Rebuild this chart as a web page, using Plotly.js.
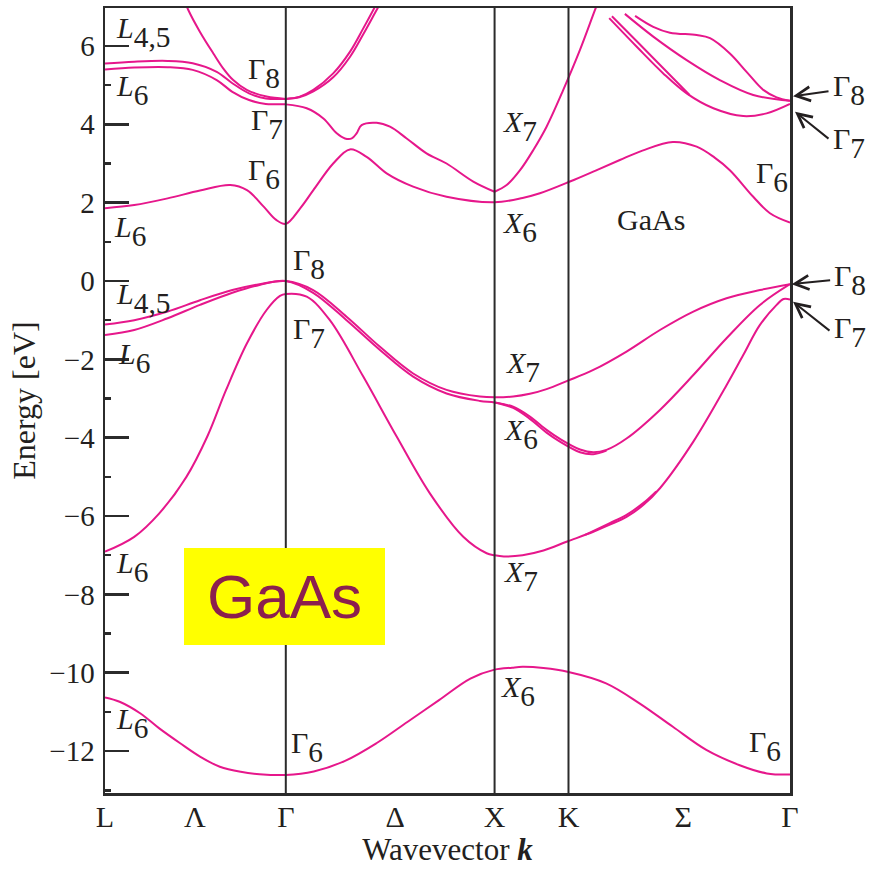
<!DOCTYPE html>
<html>
<head>
<meta charset="utf-8">
<script src="https://cdn.plot.ly/plotly-3.0.1.min.js"></script>
<style>
  html, body { margin: 0; padding: 0; background: #fff; }
  #chart { width: 876px; height: 879px; }
</style>
</head>
<body>
<div id="chart"></div>
<script>
// ---- k-path L–Γ–X–K–Γ (units of 2π/a) ----
const kPoints = [0, 0.866, 1.866, 2.220, 3.281];          // L, Γ, X, K, Γ
const kLabels = ['L', 'Λ', 'Γ', 'Δ', 'X', 'K', 'Σ', 'Γ'];
const kLabelPos = [0, 0.43, 0.866, 1.39, 1.866, 2.22, 2.77, 3.281];
const energyTicks = [-12, -10, -8, -6, -4, -2, 0, 2, 4, 6];
const energyMinorTicks = [-13, -11, -9, -7, -5, -3, -1, 1, 3, 5];

// ---- valence bands ----
// lowest (s-like) band, Γ6 at the bottom
const sBand_k = [0, 0.07, 0.17, 0.26, 0.36, 0.455, 0.55, 0.65, 0.74, 0.866, 1.0, 1.15, 1.3, 1.45, 1.6, 1.75, 1.866, 1.95, 2.0, 2.1, 2.22, 2.40, 2.56, 2.72, 2.88, 3.04, 3.17, 3.281];
const sBand_E = [-10.63, -10.74, -11.04, -11.42, -11.80, -12.14, -12.40, -12.53, -12.59, -12.61, -12.52, -12.25, -11.80, -11.25, -10.70, -10.15, -9.92, -9.87, -9.85, -9.88, -9.98, -10.27, -10.78, -11.38, -11.97, -12.36, -12.57, -12.60];

// split-off band (Γ7)
const soBand_k = [0, 0.14, 0.26, 0.39, 0.49, 0.58, 0.68, 0.774, 0.838, 0.866, 0.966, 1.077, 1.237, 1.397, 1.556, 1.716, 1.828, 1.866, 1.91, 2.0, 2.1, 2.214, 2.339, 2.418, 2.498, 2.578, 2.658, 2.818, 2.977, 3.057, 3.137, 3.217, 3.25, 3.281];
const soBand_E = [-6.91, -6.53, -5.93, -5.00, -3.97, -2.78, -1.59, -0.74, -0.38, -0.33, -0.40, -1.00, -2.44, -3.97, -5.42, -6.53, -6.95, -7.00, -7.03, -7.00, -6.88, -6.65, -6.40, -6.22, -6.02, -5.72, -5.29, -4.10, -2.66, -1.89, -1.12, -0.61, -0.46, -0.47];

// near-degenerate partner along Σ
const soBand2_k = [2.30, 2.418, 2.498, 2.578, 2.64];
const soBand2_E = [-6.48, -6.18, -5.97, -5.67, -5.37];

// upper pair meeting at Γ8
const hh1_k = [0, 0.14, 0.30, 0.455, 0.61, 0.74, 0.866, 0.997, 1.157, 1.317, 1.476, 1.636, 1.796, 1.866, 1.955, 2.035, 2.115, 2.214, 2.339, 2.498, 2.658, 2.818, 2.977, 3.137, 3.281];
const hh1_E = [-1.11, -1.00, -0.78, -0.49, -0.23, -0.08, 0.00, -0.23, -0.91, -1.68, -2.36, -2.78, -2.95, -2.97, -2.95, -2.88, -2.76, -2.55, -2.27, -1.80, -1.25, -0.78, -0.44, -0.23, -0.08];

const hh2_k = [0, 0.14, 0.30, 0.455, 0.61, 0.74, 0.866, 0.997, 1.157, 1.317, 1.476, 1.636, 1.796, 1.866, 1.955, 2.035, 2.115, 2.179, 2.275, 2.339, 2.402, 2.498, 2.658, 2.818, 2.977, 3.137, 3.281];
const hh2_E = [-1.38, -1.25, -0.95, -0.61, -0.30, -0.10, 0.00, -0.30, -1.00, -1.76, -2.44, -2.87, -3.06, -3.10, -3.21, -3.46, -3.80, -4.03, -4.30, -4.37, -4.31, -4.02, -3.29, -2.40, -1.46, -0.61, -0.08];

// spin-split partner along X–K
const hh2b_k = [1.866, 1.955, 2.035, 2.115, 2.179, 2.275, 2.339, 2.402];
const hh2b_E = [-3.10, -3.24, -3.52, -3.87, -4.10, -4.37, -4.42, -4.33];

// ---- conduction bands ----
// lowest conduction band (Γ6)
const cb1_k = [0, 0.14, 0.30, 0.455, 0.60, 0.68, 0.76, 0.82, 0.866, 0.934, 0.998, 1.093, 1.173, 1.253, 1.349, 1.476, 1.636, 1.866, 2.0, 2.083, 2.227, 2.35, 2.466, 2.574, 2.72, 2.834, 2.92, 2.993, 3.105, 3.185, 3.281];
const cb1_E = [1.86, 1.94, 2.11, 2.31, 2.45, 2.32, 1.90, 1.56, 1.46, 1.85, 2.32, 3.00, 3.36, 3.17, 2.75, 2.41, 2.15, 2.01, 2.12, 2.24, 2.54, 2.82, 3.09, 3.33, 3.55, 3.43, 3.15, 2.83, 2.15, 1.73, 1.49];

// L6 → Γ7 → X7
const cb2_k = [0, 0.14, 0.30, 0.42, 0.535, 0.61, 0.69, 0.77, 0.866, 0.966, 1.046, 1.110, 1.149, 1.182, 1.205, 1.229, 1.301, 1.365, 1.445, 1.540, 1.636, 1.764, 1.866];
const cb2_E = [5.40, 5.45, 5.46, 5.39, 5.13, 4.83, 4.62, 4.52, 4.51, 4.41, 4.15, 3.77, 3.64, 3.64, 3.77, 3.98, 4.04, 3.94, 3.64, 3.26, 3.00, 2.54, 2.28];

// X7 branch rising through K
const cb2x_k = [1.866, 1.924, 1.988, 2.051, 2.115, 2.195, 2.275, 2.347, 2.40];
const cb2x_E = [2.28, 2.45, 2.83, 3.34, 3.94, 4.88, 5.90, 6.92, 7.65];

// L4,5 → Γ8
const cb3_k = [0, 0.14, 0.30, 0.42, 0.535, 0.61, 0.69, 0.77, 0.866];
const cb3_E = [5.55, 5.60, 5.62, 5.56, 5.34, 5.05, 4.79, 4.66, 4.65];

// steep branch into Γ8 from Λ
const cb4_k = [0.37, 0.399, 0.455, 0.519, 0.566, 0.614, 0.679, 0.774, 0.866];
const cb4_E = [7.30, 6.92, 6.36, 5.81, 5.43, 5.13, 4.88, 4.71, 4.65];

// Γ8 pair rising along Δ
const cb5_k = [0.866, 0.93, 0.998, 1.093, 1.173, 1.237, 1.293, 1.33];
const cb5_E = [4.65, 4.70, 4.88, 5.30, 5.85, 6.45, 7.00, 7.38];
const cb6_k = [0.866, 0.93, 0.998, 1.093, 1.173, 1.237, 1.293, 1.33];
const cb6_E = [4.65, 4.69, 4.84, 5.20, 5.72, 6.30, 6.84, 7.20];

// Σ branches ending at Γ7 / Γ8
const cb7_k = [2.415, 2.547, 2.674, 2.786, 2.914, 3.057, 3.169, 3.281];
const cb7_E = [6.71, 5.98, 5.30, 4.79, 4.41, 4.21, 4.28, 4.52];
const cb7b_k = [2.428, 2.56, 2.68, 2.80];
const cb7b_E = [6.76, 6.05, 5.40, 4.75];
const cb8_k = [2.49, 2.626, 2.786, 2.945, 3.105, 3.281];
const cb8_E = [6.82, 6.24, 5.64, 5.13, 4.75, 4.60];
const cb9_k = [2.539, 2.626, 2.706, 2.834, 2.898, 2.993, 3.073, 3.153, 3.217, 3.281];
const cb9_E = [6.77, 6.49, 6.34, 6.28, 6.20, 5.81, 5.34, 4.88, 4.69, 4.60];

// ---- styling ----
const SERIF = '"Liberation Serif", "Times New Roman", serif';
const SANS = '"Liberation Sans", Arial, sans-serif';
const INK = '#231f20';
const FRAME = '#2b2b2b';
const BAND = '#e6178b';

const bands = [
  [sBand_k, sBand_E], [soBand_k, soBand_E], [soBand2_k, soBand2_E],
  [hh1_k, hh1_E], [hh2_k, hh2_E], [hh2b_k, hh2b_E],
  [cb1_k, cb1_E], [cb2_k, cb2_E], [cb2x_k, cb2x_E], [cb3_k, cb3_E], [cb4_k, cb4_E],
  [cb5_k, cb5_E], [cb6_k, cb6_E], [cb7_k, cb7_E], [cb7b_k, cb7b_E], [cb8_k, cb8_E], [cb9_k, cb9_E]
];

const traces = bands.map(([k, E]) => ({
  x: k, y: E, type: 'scatter', mode: 'lines',
  line: { color: BAND, width: 2, shape: 'spline', smoothing: 1 },
  hoverinfo: 'skip', showlegend: false
}));

// vertical guide lines at Γ, X, K
const shapes = kPoints.slice(1, 4).map(k => ({
  type: 'line', xref: 'x', yref: 'paper', x0: k, x1: k, y0: 0, y1: 1,
  line: { color: FRAME, width: 2 }
}));

// symbol with a full-size subscript
function sym(main, sub, italic) {
  const m = italic ? '<i>' + main + '</i>' : main;
  return '<span style="font-size:30px">' + m + '</span><sub>' + sub + '</sub>';
}
function lab(x, y, text, extra) {
  return Object.assign({
    x: x, y: y, xref: 'x', yref: 'y', text: text, showarrow: false,
    xanchor: 'left', yanchor: 'middle', borderpad: 0,
    font: { family: SERIF, size: 42, color: INK }
  }, extra || {});
}
function arrow(xp, yHead, ax, ay) {
  return {
    x: xp, y: yHead, xref: 'paper', yref: 'y', text: '', showarrow: true,
    ax: ax, ay: ay, arrowhead: 5, arrowsize: 1.4, arrowwidth: 2, arrowcolor: INK, standoff: 0
  };
}

const annotations = [
  lab(0.048, 6.36, sym('L', '4,5', true)),
  lab(0.048, 4.88, sym('L', '6', true)),
  lab(0.680, 5.31, sym('Γ', '8')),
  lab(0.694, 4.01, sym('Γ', '7')),
  lab(0.680, 2.73, sym('Γ', '6')),
  lab(0.038, 1.28, sym('L', '6', true)),
  lab(0.896, 0.43, sym('Γ', '8')),
  lab(0.048, -0.43, sym('L', '4,5', true)),
  lab(0.057, -1.97, sym('L', '6', true)),
  lab(0.896, -1.33, sym('Γ', '7')),
  lab(1.901, 3.96, sym('X', '7', true)),
  lab(1.901, 1.38, sym('X', '6', true)),
  lab(3.113, 2.66, sym('Γ', '6')),
  lab(1.916, -2.20, sym('X', '7', true)),
  lab(1.906, -3.91, sym('X', '6', true)),
  lab(0.048, -7.30, sym('L', '6', true)),
  lab(1.906, -7.53, sym('X', '7', true)),
  lab(1.892, -10.47, sym('X', '6', true)),
  lab(0.886, -11.90, sym('Γ', '6')),
  lab(0.048, -11.28, sym('L', '6', true)),
  lab(3.080, -11.87, sym('Γ', '6')),
  lab(2.613, 1.56, 'GaAs', { xanchor: 'center', font: { family: SERIF, size: 30, color: INK } }),
  // labels beyond the right edge
  lab(1.0613, 4.88, sym('Γ', '8'), { xref: 'paper' }),
  lab(1.0613, 3.52, sym('Γ', '7'), { xref: 'paper' }),
  lab(1.0628, 0.03, sym('Γ', '8'), { xref: 'paper' }),
  lab(1.0628, -1.30, sym('Γ', '7'), { xref: 'paper' }),
  arrow(1.0044, 4.72, 37, -5),
  arrow(1.0073, 4.32, 35, 28),
  arrow(1.0024, -0.08, 40, -4),
  arrow(1.0044, -0.53, 38, 30),
  // highlighted material tag
  {
    x: 0.262, y: 0.2503, xref: 'paper', yref: 'paper', xanchor: 'center', yanchor: 'middle',
    text: 'GaAs', showarrow: false, bgcolor: '#ffff00', width: 201, height: 97,
    borderpad: 0, borderwidth: 0, valign: 'middle',
    font: { family: SANS, size: 62, color: '#8b1f4e' }
  }
];

const layout = {
  width: 876, height: 879,
  margin: { l: 105, r: 86, t: 8, b: 86, pad: 0 },
  paper_bgcolor: '#ffffff', plot_bgcolor: '#ffffff',
  showlegend: false,
  xaxis: {
    range: [kPoints[0], kPoints[4]], showgrid: false, zeroline: false,
    showline: true, mirror: true, linecolor: FRAME, linewidth: 2.5,
    ticks: '', tickmode: 'array', tickvals: kLabelPos, ticktext: kLabels,
    ticklabelstandoff: -5,
    tickfont: { family: SERIF, size: 30, color: INK },
    title: { text: 'Wavevector <b><i>k</i></b>', font: { family: SERIF, size: 31, color: INK }, standoff: 6 },
    automargin: false
  },
  yaxis: {
    range: [-13.07, 6.97], showgrid: false, zeroline: false,
    showline: true, mirror: true, linecolor: FRAME, linewidth: 2.5,
    ticks: 'inside', ticklen: 24, tickwidth: 2.5, tickcolor: FRAME,
    tickmode: 'array', tickvals: energyTicks,
    minor: { tickvals: energyMinorTicks, ticks: 'inside', ticklen: 6, tickwidth: 2.5, tickcolor: FRAME },
    ticklabelstandoff: 2,
    tickfont: { family: SERIF, size: 29, color: INK },
    title: { text: 'Energy [eV]', font: { family: SERIF, size: 32, color: INK }, standoff: 4 },
    automargin: false
  },
  shapes: shapes,
  annotations: annotations
};

Plotly.newPlot('chart', traces, layout, { staticPlot: true, displayModeBar: false });
</script>
</body>
</html>
